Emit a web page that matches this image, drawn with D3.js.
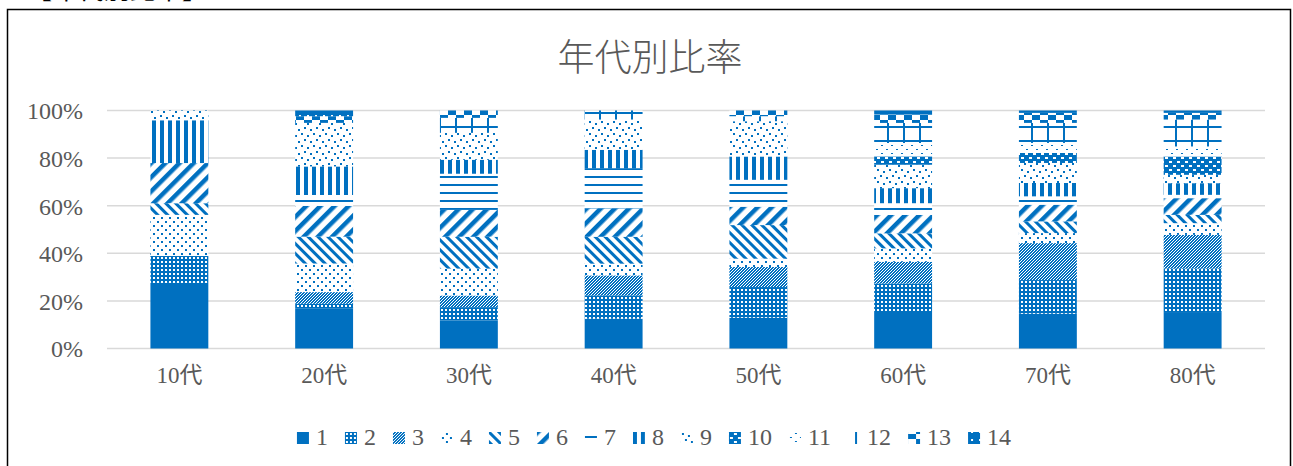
<!DOCTYPE html>
<html>
<head>
<meta charset="utf-8">
<script src="https://cdn.jsdelivr.net/npm/d3@7"></script>
<style>
    body { margin: 0; background: #fff; }
    text { font-family: "Liberation Serif", "Noto Sans CJK JP", serif; }
</style>
</head>
<body>
<script>
const categories = ["10代", "20代", "30代", "40代", "50代", "60代", "70代", "80代"];
const seriesNames = ["1", "2", "3", "4", "5", "6", "7", "8", "9", "10", "11", "12", "13", "14"];
const yTicks = [0, 0.2, 0.4, 0.6, 0.8, 1.0];

// one array per series, percent of each age group
const s1  = [27.6, 16.7, 11.8, 12.5, 12.9, 15.7, 14.6, 15.3];
const s2  = [11.3,  2.1,  5.6,  9.8, 12.9, 11.5, 14.1, 18.3];
const s3  = [ 0.0,  4.9,  4.9,  8.4,  8.4,  9.1, 15.5, 14.1];
const s4  = [17.3, 12.0, 11.3,  4.9,  3.5,  5.6,  4.2,  4.9];
const s5  = [ 4.9, 11.3, 13.4, 11.3, 14.1,  6.3,  4.9,  3.5];
const s6  = [16.9, 12.9, 11.3, 11.9,  7.7,  7.7,  7.0,  7.0];
const s7  = [ 0.0,  4.6, 15.2, 16.9, 11.3,  4.9,  3.5,  1.4];
const s8  = [18.0, 12.0,  5.9,  7.7,  9.8,  6.3,  5.6,  4.9];
const s9  = [ 4.1, 18.3, 11.3, 12.7, 14.8,  9.8,  8.4,  3.5];
const s10 = [ 0.0,  0.0,  0.0,  0.0,  0.0,  3.5,  4.2,  7.7];
const s11 = [ 0.0,  0.0,  0.0,  0.0,  0.0,  5.6,  4.2,  4.2];
const s12 = [ 0.0,  0.0,  6.3,  3.8,  2.1,  8.4,  8.4, 11.3];
const s13 = [ 0.0,  2.8,  3.1,  0.0,  2.4,  3.5,  4.2,  2.8];
const s14 = [ 0.0,  2.4,  0.0,  0.0,  0.0,  1.7,  1.0,  1.0];
const seriesValues = [s1, s2, s3, s4, s5, s6, s7, s8, s9, s10, s11, s12, s13, s14];

const width = 1293, height = 466;
const blue = "#0070c0";
const textColor = "#595959";

const data = categories.map(function(c, i) {
    const row = { cat: c };
    seriesNames.forEach(function(n, j) { row[n] = seriesValues[j][i]; });
    return row;
});

const stack = d3.stack().keys(seriesNames).offset(d3.stackOffsetExpand);
const layers = stack(data);

const x = d3.scaleBand()
    .domain(categories)
    .range([107, 1265])
    .paddingInner(0.6)
    .paddingOuter(0.3);

const y = d3.scaleLinear()
    .domain([0, 1])
    .range([348.5, 110.5]);

const svg = d3.select("body")
    .append("svg")
    .attr("width", width)
    .attr("height", height);

/* ------- PATTERNS -------*/
const defs = svg.append("defs");

function makePattern(id, w, h, bg, rects, transform) {
    const p = defs.append("pattern")
        .attr("id", id)
        .attr("patternUnits", "userSpaceOnUse")
        .attr("width", w)
        .attr("height", h);
    if (transform) p.attr("patternTransform", transform);
    p.append("rect")
        .attr("width", w).attr("height", h)
        .attr("fill", bg);
    const fg = bg === blue ? "#fff" : blue;
    rects.forEach(function(r) {
        p.append("rect")
            .attr("x", r[0]).attr("y", r[1])
            .attr("width", r[2]).attr("height", r[3])
            .attr("fill", fg)
            .attr("shape-rendering", transform ? "auto" : "crispEdges");
    });
}

makePattern("p2", 4, 4, blue, [[1, 1, 2, 2]]);
makePattern("p3", 3, 3, blue, [[0, 0, 1, 1], [1, 2, 1, 1], [2, 1, 1, 1]]);
makePattern("p4", 8, 8, "#fff", [[1, 1, 2, 2], [5, 5, 2, 2]]);
makePattern("p5", 7, 7, "#fff", [[0, 0, 3, 7]], "rotate(-45)");
makePattern("p6", 10, 10, "#fff", [[0, 0, 4.5, 10]], "rotate(45)");
makePattern("p7", 4, 8, "#fff", [[0, 0, 4, 2]]);
makePattern("p8", 8, 4, "#fff", [[0, 0, 4, 4]]);
makePattern("p9", 12, 12, "#fff", [[1, 1, 2, 2], [7, 3, 2, 2], [4, 7, 2, 2], [10, 9, 2, 2]]);
makePattern("p10", 8, 8, blue, [[1, 1, 3, 2], [5, 5, 3, 2]]);
makePattern("p11", 10, 8, "#fff", [[1, 1, 2, 1], [6, 5, 2, 1]]);
makePattern("p12", 16, 14, "#fff", [[0, 0, 16, 2], [7, 0, 2, 14]]);
makePattern("p13", 16, 10, "#fff", [[0, 0, 8, 5], [8, 5, 8, 5]]);
makePattern("p14", 8, 8, blue, [[3, 3, 2, 2]]);

function fillFor(i) {
    return i === 0 ? blue : "url(#p" + (i + 1) + ")";
}

/* ------- FRAME -------*/
svg.append("rect")
    .attr("x", 7.5)
    .attr("y", 9.5)
    .attr("width", 1283)
    .attr("height", 480)
    .attr("fill", "#fff")
    .attr("stroke", "#000")
    .attr("stroke-width", 1.5);

// heading above the frame, cut off by the page top (as in the reference)
svg.append("text")
    .attr("x", 26)
    .attr("y", -1)
    .style("font-family", "Noto Sans CJK JP")
    .style("font-size", "26px")
    .attr("fill", "#000")
    .text("【年代別比率】");

/* ------- TITLE -------*/
svg.append("text")
    .attr("x", 650)
    .attr("y", 71)
    .attr("text-anchor", "middle")
    .style("font-family", "Noto Sans CJK JP")
    .style("font-size", "37px")
    .style("font-weight", 300)
    .attr("fill", textColor)
    .text("年代別比率");

/* ------- GRID + AXES -------*/
svg.append("g")
    .attr("class", "grid")
    .selectAll("line")
    .data(yTicks)
    .enter()
    .append("line")
    .attr("x1", 107)
    .attr("x2", 1265)
    .attr("y1", function(d) { return y(d); })
    .attr("y2", function(d) { return y(d); })
    .attr("stroke", "#d9d9d9")
    .attr("stroke-width", 1.5);

const yAxis = svg.append("g")
    .attr("transform", "translate(89,0)")
    .call(d3.axisLeft(y).tickValues(yTicks).tickFormat(d3.format(".0%")).tickSize(0));
yAxis.select(".domain").remove();
yAxis.selectAll("text")
    .attr("x", -6)
    .attr("dy", "0.35em")
    .attr("fill", textColor)
    .style("font-size", "24px");

const xAxis = svg.append("g")
    .attr("transform", "translate(0,348.5)")
    .call(d3.axisBottom(x).tickSize(0));
xAxis.select(".domain").remove();
xAxis.selectAll("text")
    .attr("y", 34)
    .attr("dy", "0")
    .attr("fill", textColor)
    .style("font-size", "23px");

/* ------- BARS -------*/
const layer = svg.append("g")
    .attr("class", "bars")
    .selectAll("g")
    .data(layers)
    .enter()
    .append("g")
    .attr("fill", function(d, i) { return fillFor(i); });

layer.selectAll("rect")
    .data(function(d) { return d; })
    .enter()
    .append("rect")
    .attr("x", function(d) { return x(d.data.cat); })
    .attr("width", x.bandwidth())
    .attr("y", function(d) { return y(d[1]); })
    .attr("height", function(d) { return y(d[0]) - y(d[1]); });

/* ------- LEGEND -------*/
const legend = svg.append("g").attr("class", "legend");
const legendItem = legend.selectAll(".legend-item")
    .data(seriesNames)
    .enter()
    .append("g")
    .attr("class", "legend-item");

legendItem.append("rect")
    .attr("x", 0)
    .attr("y", -12)
    .attr("width", 12)
    .attr("height", 12)
    .attr("fill", function(d, i) { return fillFor(i); });

legendItem.append("text")
    .attr("x", 19)
    .attr("y", 1)
    .attr("fill", textColor)
    .style("font-size", "24px")
    .text(function(d) { return d; });

let pos = 0;
const itemX = [];
legendItem.each(function() {
    itemX.push(pos);
    const w = this.querySelector("text").getComputedTextLength();
    pos += 19 + w + 17;
});
const legendWidth = pos - 17;
legendItem.attr("transform", function(d, i) { return "translate(" + itemX[i] + ",0)"; });
legend.attr("transform", "translate(" + (654 - legendWidth / 2) + ",444)");
</script>
</body>
</html>
